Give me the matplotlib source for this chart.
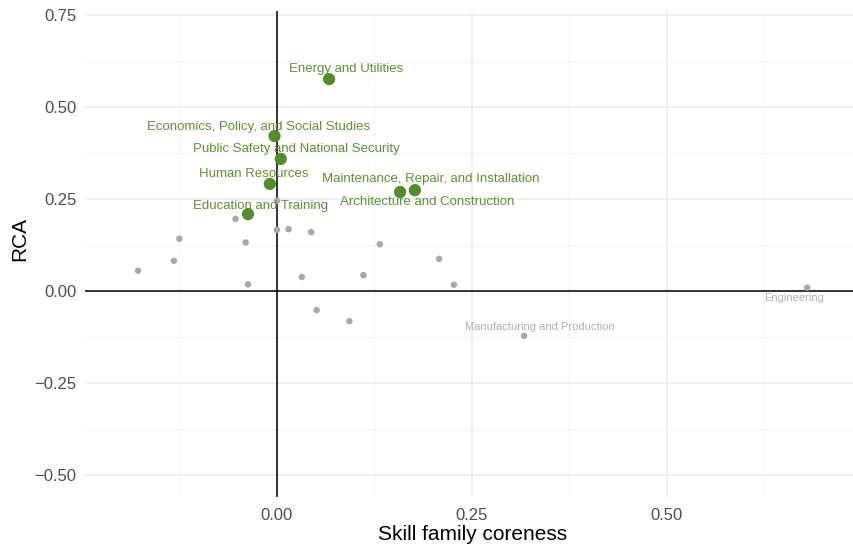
import matplotlib.pyplot as plt

plt.rcParams['font.family'] = ['Liberation Sans', 'DejaVu Sans']

# highlighted skill families
hi_names = ["Energy and Utilities", "Economics, Policy, and Social Studies",
            "Public Safety and National Security", "Human Resources",
            "Maintenance, Repair, and Installation", "Architecture and Construction",
            "Education and Training"]
hi_x = [0.067, -0.003, 0.005, -0.009, 0.177, 0.158, -0.037]
hi_y = [0.576, 0.421, 0.359, 0.291, 0.274, 0.269, 0.209]
# label offsets in pixels (ggrepel-style placement)
hi_dx = [17, -16, 16, -16, 16, 27, 13]
hi_dy = [10, 9, 10, 10, 11, -10, 8]

# other skill families
lo_x = [-0.178, -0.132, -0.125, -0.053, -0.040, -0.037, 0.000, 0.000, 0.015, 0.044,
        0.032, 0.051, 0.093, 0.111, 0.132, 0.208, 0.227, 0.317, 0.680]
lo_y = [0.055, 0.082, 0.142, 0.196, 0.132, 0.018, 0.245, 0.166, 0.168, 0.160,
        0.038, -0.052, -0.082, 0.043, 0.127, 0.087, 0.017, -0.122, 0.009]
lo_labels = {17: ("Manufacturing and Production", 16, 9), 18: ("Engineering", -13, -10)}

green = '#558b2f'
grey = '#a8a8a8'

fig = plt.figure(figsize=(8.54, 5.48), dpi=100)
ax = fig.add_axes([85/854, 51/548, 769/854, 486/548])

ax.set_xlim(-0.246, 0.740)
ax.set_ylim(-0.560, 0.761)

major_x = [0.0, 0.25, 0.5]
minor_x = [-0.125, 0.125, 0.375, 0.625]
major_y = [-0.5, -0.25, 0.0, 0.25, 0.5, 0.75]
minor_y = [-0.375, -0.125, 0.125, 0.375, 0.625]
ax.set_xticks(major_x)
ax.set_xticklabels(["0.00", "0.25", "0.50"])
ax.set_yticks(major_y)
ax.set_yticklabels(["\u22120.50", "\u22120.25", "0.00", "0.25", "0.50", "0.75"])
ax.set_xticks(minor_x, minor=True)
ax.set_yticks(minor_y, minor=True)
ax.grid(True, which='major', color='#ebebeb', linewidth=1.1)
ax.grid(True, which='minor', color='#f2f2f2', linewidth=0.6)
ax.set_axisbelow(True)
ax.tick_params(which='both', length=0, labelsize=12, labelcolor='#4d4d4d')
ax.tick_params(axis='x', pad=8)
ax.tick_params(axis='y', pad=6)
for s in ax.spines.values():
    s.set_visible(False)

ax.axhline(0, color='black', linewidth=1.1, zorder=1)
ax.axvline(0, color='black', linewidth=1.1, zorder=1)

ax.scatter(lo_x, lo_y, s=22, color=grey, edgecolors='none', zorder=3)
ax.scatter(hi_x, hi_y, s=78, color=green, edgecolors='none', zorder=4)

for i, name in enumerate(hi_names):
    ax.annotate(name, (hi_x[i], hi_y[i]), xytext=(hi_dx[i], hi_dy[i]),
                textcoords='offset pixels', ha='center', va='center',
                fontsize=9.5, color='#5b9136', zorder=5)
for i, (name, dx, dy) in lo_labels.items():
    ax.annotate(name, (lo_x[i], lo_y[i]), xytext=(dx, dy),
                textcoords='offset pixels', ha='center', va='center',
                fontsize=8, color='#b0b0b0', zorder=5)

ax.set_xlabel("Skill family coreness", fontsize=15)
ax.set_ylabel("RCA", fontsize=15)
ax.xaxis.set_label_coords(0.504, -0.058)
ax.yaxis.set_label_coords(-0.073, 0.53)

fig.savefig("out.png", dpi=100)
